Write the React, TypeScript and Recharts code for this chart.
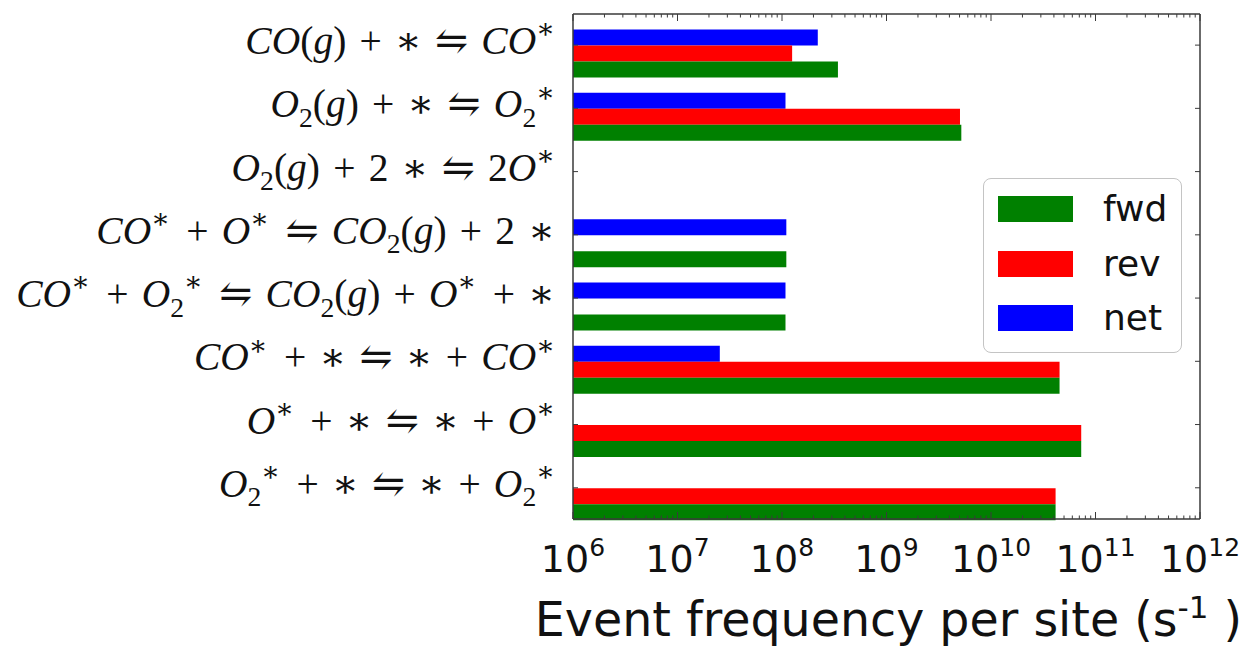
import React from 'react';
import { BarChart, Bar, XAxis, YAxis, Legend } from 'recharts';

// Reaction labels (^ = superscript next char, _ = subscript next char)
const reactions: string[] = [
  'CO(g) + ∗ ⇋ CO^∗',
  'O_2(g) + ∗ ⇋ O_2^∗',
  'O_2(g) + 2 ∗ ⇋ 2O^∗',
  'CO^∗ + O^∗ ⇋ CO_2(g) + 2 ∗',
  'CO^∗ + O_2^∗ ⇋ CO_2(g) + O^∗ + ∗',
  'CO^∗ + ∗ ⇋ ∗ + CO^∗',
  'O^∗ + ∗ ⇋ ∗ + O^∗',
  'O_2^∗ + ∗ ⇋ ∗ + O_2^∗',
];

const fwd: (number | null)[] = [3.43e8, 5.2e9, null, 1.1e8, 1.08e8, 4.53e10, 7.3e10, 4.15e10];
const rev: (number | null)[] = [1.25e8, 5.05e9, null, null, null, 4.53e10, 7.3e10, 4.15e10];
const net: (number | null)[] = [2.2e8, 1.08e8, null, 1.1e8, 1.08e8, 2.54e7, null, null];

const majorExponents: number[] = [6, 7, 8, 9, 10, 11, 12];
const minorMultipliers: number[] = [2, 3, 4, 5, 6, 7, 8, 9];

const legendOrder: string[] = ['fwd', 'rev', 'net'];
const colors: Record<string, string> = { fwd: '#008000', rev: '#ff0000', net: '#0000ff' };

const xTicks: number[] = [];
majorExponents.forEach((e, i) => {
  xTicks.push(Math.pow(10, e));
  if (i < majorExponents.length - 1) {
    minorMultipliers.forEach((m) => xTicks.push(m * Math.pow(10, e)));
  }
});

const data = reactions.map((name, i) => ({ name, fwd: fwd[i], rev: rev[i], net: net[i] }));

const FRAME = '#3a3a3a';
const TICK_SHIFT = 7.9;
const LABEL_SIZE = 39.5;

function isMajor(v: number) {
  const e = Math.round(Math.log10(v));
  return Math.abs(v - Math.pow(10, e)) < 1e-6 * v;
}

function MathText({ x, y, text, size }: { x: number; y: number; text: string; size: number }) {
  const parts: React.ReactNode[] = [];
  let shift = 0;
  let i = 0;
  let k = 0;
  let afterSup = false;
  while (i < text.length) {
    let ch = text[i];
    let target = 0;
    let fs = size;
    let isSup = false;
    if (ch === '^') {
      ch = text[i + 1];
      i += 2;
      target = -0.4 * size;
      fs = 0.7 * size;
      isSup = true;
    } else if (ch === '_') {
      ch = text[i + 1];
      i += 2;
      target = 0.24 * size;
      fs = 0.7 * size;
    } else {
      i += 1;
    }
    const italic = /[A-Za-z]/.test(ch);
    const display = ch === ' ' ? '\u2004' : ch;
    parts.push(
      <tspan
        key={k++}
        dy={target - shift}
        dx={afterSup ? 0.08 * size : 0}
        fontSize={fs}
        fontStyle={italic ? 'italic' : 'normal'}
      >
        {display}
      </tspan>
    );
    afterSup = isSup;
    shift = target;
  }
  return (
    <text
      x={x}
      y={y}
      textAnchor="end"
      fontFamily="'Liberation Serif', 'DejaVu Serif', serif"
      fontSize={size}
      fill="#111"
      style={{ whiteSpace: 'pre' }}
    >
      {parts}
    </text>
  );
}

const LeftTick = (props: any) => {
  const { x, y, payload } = props;
  const ty = y - TICK_SHIFT;
  return (
    <g>
      <line x1={x} x2={x + 5} y1={ty} y2={ty} stroke={FRAME} strokeWidth={1} />
      <MathText x={x - 18} y={ty + 9} text={payload.value} size={LABEL_SIZE} />
    </g>
  );
};

const RightTick = (props: any) => {
  const { x, y } = props;
  const ty = y - TICK_SHIFT;
  return <line x1={x} x2={x - 5} y1={ty} y2={ty} stroke={FRAME} strokeWidth={1} />;
};

const BottomTick = (props: any) => {
  const { x, y, payload } = props;
  const v = payload.value as number;
  const major = isMajor(v);
  const e = Math.round(Math.log10(v));
  return (
    <g>
      <line x1={x} x2={x} y1={y} y2={y - (major ? 7 : 3.5)} stroke={FRAME} strokeWidth={1} />
      {major && (
        <text x={x} y={y + 53} textAnchor="middle" fontFamily="'DejaVu Sans', sans-serif" fontSize={38} fill="#111">
          10
          <tspan dy={-16} fontSize={25}>
            {e}
          </tspan>
        </text>
      )}
    </g>
  );
};

const TopTick = (props: any) => {
  const { x, y, payload } = props;
  const major = isMajor(payload.value as number);
  return <line x1={x} x2={x} y1={y} y2={y + (major ? 7 : 3.5)} stroke={FRAME} strokeWidth={1} />;
};

const TitleLabel = (props: any) => {
  const vb = props.viewBox || {};
  return (
    <text
      x={vb.x + vb.width / 2 + 2}
      y={vb.y + 117}
      textAnchor="middle"
      fontFamily="'DejaVu Sans', sans-serif"
      fontSize={47.5}
      fill="#111"
      style={{ whiteSpace: 'pre' }}
    >
      Event frequency per site (s
      <tspan dy={-18} fontSize={31}>
        -1
      </tspan>
      <tspan dy={18}> )</tspan>
    </text>
  );
};

const LegendContent = (props: any) => {
  const payload: any[] = props.payload || [];
  const items = legendOrder
    .map((key) => payload.find((p) => p.dataKey === key || p.value === key))
    .filter(Boolean);
  return (
    <div
      style={{
        boxSizing: 'border-box',
        width: 199,
        height: 175,
        border: '1.5px solid #c4c4c4',
        borderRadius: 8,
        background: '#fff',
        paddingTop: 17,
        paddingLeft: 14,
        fontFamily: "'DejaVu Sans', sans-serif",
        fontSize: 36,
        color: '#111',
      }}
    >
      {items.map((it: any, i: number) => (
        <div
          key={i}
          style={{ display: 'flex', alignItems: 'center', height: 26, marginBottom: 28.5, lineHeight: '26px' }}
        >
          <div style={{ width: 75, height: 26, background: it.color }} />
          <span style={{ marginLeft: 30 }}>{it.value}</span>
        </div>
      ))}
    </div>
  );
};

export default function App() {
  return (
    <div style={{ position: 'absolute', left: 0, top: 0, width: 1243, height: 646, background: '#fff' }}>
      <BarChart
        width={1243}
        height={646}
        data={data}
        layout="vertical"
        margin={{ top: 13, right: 42, bottom: 0, left: 0 }}
        barCategoryGap="12.8%"
        barGap={0}
      >
        <XAxis
          xAxisId="bottom"
          type="number"
          scale="log"
          domain={[1e6, 1e12]}
          allowDataOverflow
          ticks={xTicks}
          interval={0}
          tick={BottomTick}
          tickSize={0}
          tickMargin={0}
          tickLine={false}
          height={127}
          axisLine={{ stroke: FRAME, strokeWidth: 1.5 }}
          label={TitleLabel}
        />
        <XAxis
          xAxisId="top"
          orientation="top"
          type="number"
          scale="log"
          domain={[1e6, 1e12]}
          allowDataOverflow
          ticks={xTicks}
          interval={0}
          tick={TopTick}
          tickSize={0}
          tickMargin={0}
          tickLine={false}
          height={1}
          axisLine={{ stroke: FRAME, strokeWidth: 1.5 }}
        />
        <YAxis
          yAxisId="left"
          type="category"
          dataKey="name"
          width={573}
          padding={{ top: 7.4, bottom: -8.3 }}
          interval={0}
          tick={LeftTick}
          tickSize={0}
          tickMargin={0}
          tickLine={false}
          axisLine={{ stroke: FRAME, strokeWidth: 1.5 }}
        />
        <YAxis
          yAxisId="right"
          orientation="right"
          type="category"
          dataKey="name"
          width={1}
          padding={{ top: 7.4, bottom: -8.3 }}
          interval={0}
          tick={RightTick}
          tickSize={0}
          tickMargin={0}
          tickLine={false}
          axisLine={{ stroke: FRAME, strokeWidth: 1.5 }}
        />
        <Legend
          layout="vertical"
          align="center"
          verticalAlign="middle"
          content={LegendContent}
          wrapperStyle={{ left: 983, top: 178, width: 199, height: 175 }}
        />
        <Bar dataKey="net" name="net" fill={colors.net} xAxisId="bottom" yAxisId="left" isAnimationActive={false} />
        <Bar dataKey="rev" name="rev" fill={colors.rev} xAxisId="bottom" yAxisId="left" isAnimationActive={false} />
        <Bar dataKey="fwd" name="fwd" fill={colors.fwd} xAxisId="bottom" yAxisId="left" isAnimationActive={false} />
      </BarChart>
    </div>
  );
}
